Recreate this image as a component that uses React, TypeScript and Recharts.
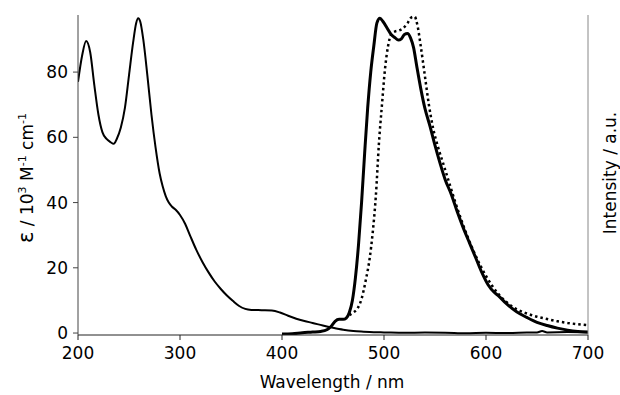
import React from "react";
import { LineChart, Line, XAxis, YAxis } from "recharts";

const absWl = [200, 204, 208, 212, 216, 220, 224, 228, 232, 235, 238, 242, 246, 250, 254, 257, 259, 261, 264, 268, 272, 276, 280, 283, 286, 289, 292, 296, 300, 305, 310, 316, 322, 328, 334, 340, 346, 352, 358, 364, 370, 380, 390, 398, 406, 414, 422, 430, 440, 450, 460, 470, 480, 490, 500, 520, 540, 560, 580, 600, 620, 640, 650, 655, 660, 680, 700];
const absVal = [77, 85, 89.5, 86, 76, 67, 61.5, 59.5, 58.5, 58, 59.5, 63, 69, 79, 89, 95, 96.5, 95.5, 90, 79, 67, 57, 49, 45, 42, 40, 38.8, 37.7, 36.2, 33.5, 29.8, 25.5, 21.8, 18.6, 15.8, 13.5, 11.5, 9.8, 8.3, 7.4, 7.1, 7.0, 6.9, 6.3, 5.3, 4.4, 3.7, 3.1, 2.3, 1.6, 1.0, 0.6, 0.4, 0.25, 0.2, 0.1, 0.15, 0.1, -0.1, 0.1, 0.0, 0.15, 0.2, 0.6, 0.2, 0.3, 0.2];

const emWl = [400, 410, 420, 430, 438, 444, 448, 452, 456, 460, 463, 466, 469, 472, 475, 478, 481, 484, 487, 490, 493, 496, 499, 503, 507, 511, 514, 517, 520, 523, 526, 529, 532, 536, 540, 545, 550, 555, 560, 566, 572, 578, 584, 590, 596, 602, 608, 612, 620, 630, 640, 650, 660, 670, 680, 690, 700];
const emVal = [-0.3, -0.2, 0.1, 0.3, 0.5, 1.0, 2.0, 3.6, 4.2, 4.2, 4.6, 6.3, 10, 17, 27, 40, 55, 69, 80, 88, 95, 96.5, 95.5, 93.5, 91.5, 90.5, 89.8, 90.2, 91.5, 91.8, 90.5, 87.5, 82, 75, 69, 63.5, 57.5, 52, 47, 42.5, 37, 32, 27.5, 23, 18.5, 14.8, 12.5, 11.5, 9, 6.5, 4.8, 3.3, 2.3, 1.5, 0.9, 0.5, 0.3];

const exWl = [466, 470, 474, 478, 482, 486, 489, 492, 495, 498, 501, 504, 507, 511, 515, 519, 523, 527, 530, 533, 536, 540, 544, 548, 553, 558, 564, 570, 576, 582, 588, 594, 600, 606, 612, 620, 630, 640, 650, 660, 670, 680, 690, 700];
const exVal = [5.5, 6.3, 7.5, 10.5, 16, 23, 31, 42, 58, 70, 81, 88, 91.5, 92.5, 92.8, 93.5, 95, 96.8, 97, 94, 88, 79, 70, 63, 57, 52, 46, 40, 34.5, 29.5, 25, 21, 17.5, 14.5, 12, 9.5, 7.3, 6, 5, 4.3, 3.6, 3.1, 2.7, 2.4];

const xTicks = [200, 300, 400, 500, 600, 700];
const yTicks = [0, 20, 40, 60, 80];

const absData = absWl.map((w, i) => ({ wl: w, v: absVal[i] }));
const emData = emWl.map((w, i) => ({ wl: w, v: emVal[i] }));
const exData = exWl.map((w, i) => ({ wl: w, v: exVal[i] }));

const FONT = "DejaVu Sans";

const YLabel = () => (
  <text transform="translate(33,178) rotate(-90)" textAnchor="middle" fontFamily={FONT} fontSize={17} fill="#000">
    <tspan fontSize={21}>ε</tspan>
    <tspan> / 10</tspan>
    <tspan dy={-7} fontSize={11}>3</tspan>
    <tspan dy={7}> M</tspan>
    <tspan dy={-7} fontSize={11}>-1</tspan>
    <tspan dy={7}> cm</tspan>
    <tspan dy={-7} fontSize={11}>-1</tspan>
  </text>
);

const RLabel = () => (
  <text transform="translate(616,173) rotate(-90)" textAnchor="middle" fontFamily={FONT} fontSize={17} fill="#000">
    Intensity / a.u.
  </text>
);

const XLabel = () => (
  <text x={332} y={388} textAnchor="middle" fontFamily={FONT} fontSize={17} fill="#000">
    Wavelength / nm
  </text>
);

export default function App() {
  return (
    <div style={{ position: "absolute", left: 0, top: 0, width: 620, height: 395, background: "#fff" }}>
      <LineChart width={620} height={395} margin={{ top: 15, right: 0, bottom: 0, left: 0 }}>
        <XAxis
          dataKey="wl"
          type="number"
          domain={[200, 700]}
          ticks={xTicks}
          allowDataOverflow
          height={60}
          tickSize={5}
          tickMargin={7}
          stroke="#222"
          tick={{ fill: "#000", fontSize: 17, fontFamily: FONT }}
          label={{ content: () => <XLabel /> }}
        />
        <YAxis
          yAxisId="l"
          type="number"
          domain={[-0.6, 97.5]}
          ticks={yTicks}
          allowDataOverflow
          width={78}
          tickSize={5}
          tickMargin={5}
          stroke="#444"
          tick={{ fill: "#000", fontSize: 17, fontFamily: FONT }}
          label={{ content: () => <YLabel /> }}
        />
        <YAxis
          yAxisId="r"
          orientation="right"
          type="number"
          domain={[-0.6, 97.5]}
          allowDataOverflow
          width={32}
          tick={false}
          tickLine={false}
          stroke="#888"
          label={{ content: () => <RLabel /> }}
        />
        <Line yAxisId="l" data={absData} dataKey="v" type="monotone" stroke="#000" strokeWidth={2} dot={false} isAnimationActive={false} />
        <Line yAxisId="r" data={exData} dataKey="v" type="monotone" stroke="#000" strokeWidth={2.5} strokeDasharray="2.5 3" dot={false} isAnimationActive={false} />
        <Line yAxisId="r" data={emData} dataKey="v" type="monotone" stroke="#000" strokeWidth={3} dot={false} isAnimationActive={false} />
      </LineChart>
    </div>
  );
}
